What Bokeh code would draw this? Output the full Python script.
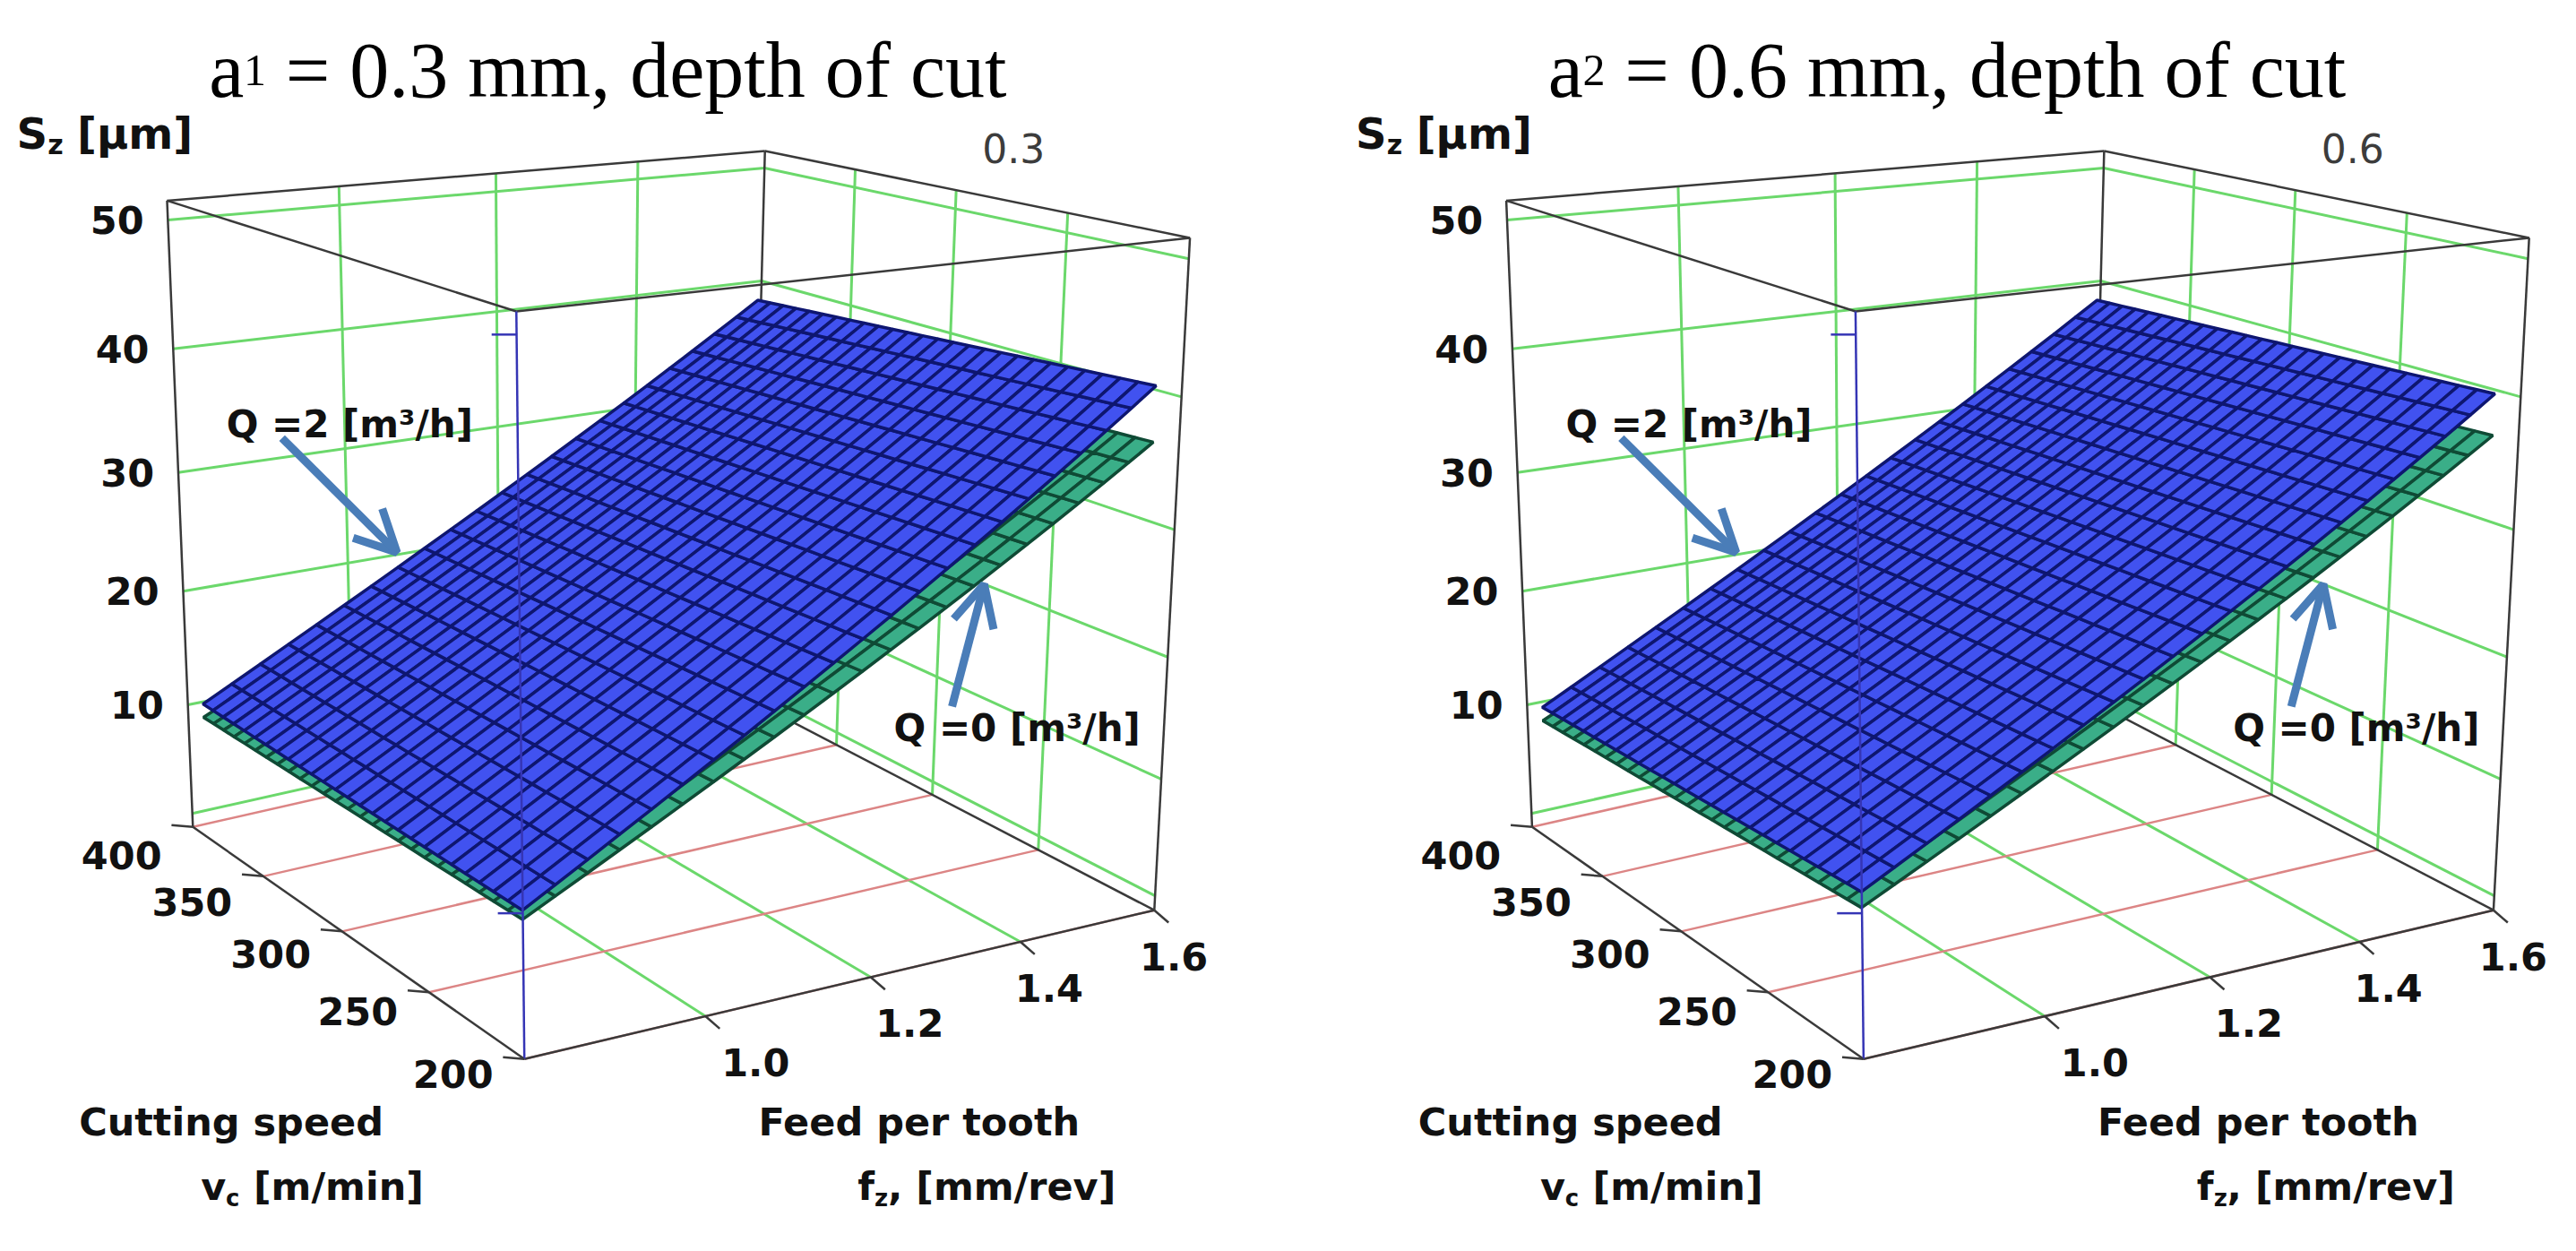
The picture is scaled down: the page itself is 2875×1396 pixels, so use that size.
import numpy as np
from bokeh.plotting import figure
from bokeh.models import Range1d, Arrow, OpenHead
from bokeh.core.properties import value
from bokeh.embed import file_html
from bokeh.resources import INLINE

# ---- values ----
depth_text = ["0.3", "0.6"]
depth_idx = ["1", "2"]
vc_ticks = [400, 350, 300, 250, 200]      # cutting speed [m/min]
fz_ticks = [1.0, 1.2, 1.4, 1.6]           # feed per tooth [mm/rev]
sz_ticks = [10, 20, 30, 40, 50]           # Sz [um]
vc_lims = [200, 400]
fz_lims = [0.8, 1.6]

# fitted Sz [um] at the corners of the tested range
# order: (vc max, fz min), (vc min, fz min), (vc max, fz max), (vc min, fz max)
surf_vc = [205, 395]
surf_fz = [0.81, 1.58]
sz_q2 = [[10.3, 9.6, 38.6, 40.7], [10.0, 11.0, 38.6, 40.1]]   # Q = 2 m3/h
sz_q0 = [[9.1, 8.9, 35.1, 36.5], [8.8, 9.8, 35.4, 37.0]]      # Q = 0 m3/h

# ---- 3d box projection (screen px of the box corners, left panel) ----
# key (u, v, w): u vc 400->200, v fz 0.8->1.6, w floor->ceiling
BOX = {
    (0, 0, 0): (216, 933), (0, 0, 1): (187, 226),
    (1, 0, 0): (588, 1195), (1, 0, 1): (579, 351),
    (0, 1, 0): (842, 790), (0, 1, 1): (858, 170),
    (1, 1, 0): (1295, 1027), (1, 1, 1): (1335, 268),
}
PANEL_DX = [0, 1503]
N_VC, N_FZ = 26, 22


def to_uvw(vc, fz, z):
    t = (vc_lims[1] - np.asarray(vc, float)) / (vc_lims[1] - vc_lims[0])
    s = (np.asarray(fz, float) - fz_lims[0]) / (fz_lims[1] - fz_lims[0])
    z = np.asarray(z, float)
    # mild perspective along each axis
    u = t - 0.2 * t * (1 - t)
    v = s + 0.2 * s * (1 - s)
    w = 0.0215 + 0.01695 * z + 4e-5 * z * z
    return u, v, w


def from_uvw(u, v, w, dx):
    u, v, w = np.broadcast_arrays(np.asarray(u, float), np.asarray(v, float), np.asarray(w, float))
    x = np.zeros(u.shape)
    y = np.zeros(u.shape)
    for (iu, iv, iw), (cx, cy) in BOX.items():
        k = (u if iu else 1 - u) * (v if iv else 1 - v) * (w if iw else 1 - w)
        x = x + k * cx
        y = y + k * cy
    return x + dx, y


def proj(vc, fz, z, dx):
    return from_uvw(*to_uvw(vc, fz, z), dx)


def seg(a, b, dx):
    x, y = from_uvw([a[0], b[0]], [a[1], b[1]], [a[2], b[2]], dx)
    return list(x), list(y)


def surface(corners, dx):
    vcs = np.linspace(surf_vc[1], surf_vc[0], N_VC + 1)
    fzs = np.linspace(surf_fz[0], surf_fz[1], N_FZ + 1)
    VC, FZ = np.meshgrid(vcs, fzs, indexing="ij")
    a = (surf_vc[1] - VC) / (surf_vc[1] - surf_vc[0])
    b = (FZ - surf_fz[0]) / (surf_fz[1] - surf_fz[0])
    Z = ((1 - a) * (1 - b) * corners[0] + a * (1 - b) * corners[1]
         + (1 - a) * b * corners[2] + a * b * corners[3])
    X, Y = proj(VC, FZ, Z, dx)
    xs, ys = [], []
    for i in range(N_VC):
        for j in range(N_FZ):
            xs.append([X[i, j], X[i + 1, j], X[i + 1, j + 1], X[i, j + 1]])
            ys.append([Y[i, j], Y[i + 1, j], Y[i + 1, j + 1], Y[i, j + 1]])
    return xs, ys


W, H = 2875, 1396
p = figure(width=2859, height=1380, x_range=Range1d(0, W), y_range=Range1d(H, 0),
           output_backend="svg", toolbar_location=None, min_border=0,
           x_axis_location=None, y_axis_location=None)
p.grid.visible = False
p.outline_line_color = None

GREEN = "#6bd86b"
RED = "#dc8585"
EDGE = "#3a3a3a"
SANS = value("DejaVu Sans")
SERIF = value("Liberation Serif")
ARROW = "#4a7db8"

for k in range(2):
    dx = PANEL_DX[k]
    z_grid = [0] + sz_ticks

    # green grid on the back walls
    gx, gy = [], []
    for z in z_grid:
        w = to_uvw(300, 1.0, z)[2]
        for a, b in [((0, 0, w), (0, 1, w)), ((0, 1, w), (1, 1, w))]:
            sx, sy = seg(a, b, dx)
            gx.append(sx); gy.append(sy)
    for fz in fz_ticks[:-1]:
        v = to_uvw(300, fz, 0)[1]
        sx, sy = seg((0, v, 0), (0, v, 1), dx); gx.append(sx); gy.append(sy)
        sx, sy = seg((0, v, 0), (1, v, 0), dx); gx.append(sx); gy.append(sy)
    for vc in vc_ticks[1:-1]:
        u = to_uvw(vc, 1.0, 0)[0]
        sx, sy = seg((u, 1, 0), (u, 1, 1), dx); gx.append(sx); gy.append(sy)
    p.multi_line(gx, gy, line_color=GREEN, line_width=3)

    # red floor lines at each cutting speed
    rx, ry = [], []
    for vc in vc_ticks:
        u = to_uvw(vc, 1.0, 0)[0]
        sx, sy = seg((u, 0, 0), (u, 1, 0), dx); rx.append(sx); ry.append(sy)
    p.multi_line(rx, ry, line_color=RED, line_width=2.5)

    # box edges
    ex, ey = [], []
    for a, b in [((0, 0, 0), (0, 0, 1)), ((0, 1, 0), (0, 1, 1)), ((1, 1, 0), (1, 1, 1)),
                 ((0, 1, 0), (1, 1, 0)), ((0, 0, 0), (1, 0, 0)), ((1, 0, 0), (1, 1, 0)),
                 ((0, 0, 1), (1, 0, 1)), ((1, 0, 1), (1, 1, 1)),
                 ((0, 0, 1), (0, 1, 1)), ((0, 1, 1), (1, 1, 1))]:
        sx, sy = seg(a, b, dx)
        ex.append(sx); ey.append(sy)
    p.multi_line(ex, ey, line_color=EDGE, line_width=2.5)

    # response surfaces: Q = 0 below, Q = 2 on top
    xs, ys = surface(sz_q0[k], dx)
    p.patches(xs, ys, fill_color="#3aae88", line_color="#0f4a35", line_width=3.5)
    xs, ys = surface(sz_q2[k], dx)
    p.patches(xs, ys, fill_color="#4152f0", line_color="#0e1670", line_width=3.5)

    # front vertical edge (blue) with its ticks
    bx, by = [], []
    sx, sy = seg((1, 0, 0), (1, 0, 1), dx); bx.append(sx); by.append(sy)
    for z in [10, 50]:
        x0, y0 = proj(200, 0.8, z, dx)
        bx.append([float(x0), float(x0) - 28]); by.append([float(y0), float(y0)])
    p.multi_line(bx, by, line_color="#3535b5", line_width=2.5)

    # axis ticks
    tx, ty = [], []
    zb = -1.27
    for vc in vc_ticks:
        x0, y0 = proj(vc, 0.8, zb, dx)
        tx.append([float(x0), float(x0) - 24]); ty.append([float(y0), float(y0) - 2])
    for fz in fz_ticks:
        x0, y0 = proj(200, fz, zb, dx)
        tx.append([float(x0), float(x0) + 16]); ty.append([float(y0), float(y0) + 14])
    p.multi_line(tx, ty, line_color=EDGE, line_width=2.5)

    # tick labels
    lx, ly, lt = [], [], []
    for z in sz_ticks:
        x0, y0 = proj(400, 0.8, z, dx)
        lx.append(float(x0) - 57); ly.append(float(y0)); lt.append(str(z))
    for vc in vc_ticks:
        u = float(to_uvw(vc, 1.0, 0)[0])
        x0, y0 = proj(vc, 0.8, zb, dx)
        lx.append(float(x0) - 80); ly.append(float(y0) + 32 - 15 * u); lt.append(str(vc))
    for fz in fz_ticks:
        v = float(to_uvw(300, fz, 0)[1])
        x0, y0 = proj(200, fz, zb, dx)
        lx.append(float(x0) + 70 - 48 * v); ly.append(float(y0) + 52); lt.append(f"{fz:.1f}")
    p.text(lx, ly, lt, text_font=SANS, text_font_style="bold", text_font_size="43px",
           text_align="center", text_baseline="middle", text_color="#111111")

    # axis titles
    p.text([259 + dx, 1031 + dx], [1266, 1266], ["Cutting speed", "Feed per tooth"],
           text_font=SANS, text_font_style="bold", text_font_size="43px",
           text_align="center", text_baseline="middle", text_color="#111111")
    p.text([225 + dx, 962 + dx, 284 + dx, 996 + dx], [1339, 1339, 1339, 1339],
           ["v", "f", "[m/min]", ", [mm/rev]"],
           text_font=SANS, text_font_style="bold", text_font_size="43px",
           text_align="left", text_baseline="middle", text_color="#111111")
    p.text([253 + dx, 981 + dx], [1352, 1352], ["c", "z"],
           text_font=SANS, text_font_style="bold", text_font_size="26px",
           text_align="left", text_baseline="middle", text_color="#111111")
    p.text([18 + dx, 86 + dx], [150, 150], ["S", "[µm]"],
           text_font=SANS, text_font_style="bold", text_font_size="48px",
           text_align="left", text_baseline="middle", text_color="#111111")
    p.text([53 + dx], [163], ["z"],
           text_font=SANS, text_font_style="bold", text_font_size="30px",
           text_align="left", text_baseline="middle", text_color="#111111")
    p.text([1137 + dx], [167], [depth_text[k]],
           text_font=SANS, text_font_size="44px",
           text_align="center", text_baseline="middle", text_color="#3c3c3c")

    # panel title
    x0 = 234 + dx
    p.text([x0], [79], ["a"], text_font=SERIF, text_font_size="88px",
           text_align="left", text_baseline="alphabetic", text_color="#000000")
    p.text([x0 + 39], [79], [depth_idx[k]], text_font=SERIF, text_font_size="50px",
           text_align="left", text_baseline="alphabetic", text_color="#000000")
    p.text([x0 + 86], [79], [f"= {depth_text[k]} mm, depth of cut"], text_font=SERIF,
           text_font_size="88px", text_align="left", text_baseline="alphabetic",
           text_color="#000000")

    # flow-rate annotations
    p.text([392 + dx, 1141 + dx], [478, 821], ["Q =2 [m³/h]", "Q =0 [m³/h]"],
           text_font=SANS, text_font_style="bold", text_font_size="42px",
           text_align="center", text_baseline="middle", text_color="#111111")
    for (xa, ya, xb, yb) in [(316, 494, 445, 623), (1068, 797, 1104, 659)]:
        p.add_layout(Arrow(end=OpenHead(size=46, line_width=9, line_color=ARROW),
                           x_start=xa + dx, y_start=ya, x_end=xb + dx, y_end=yb,
                           line_width=9, line_color=ARROW))

open("out.html", "w").write(file_html(p, INLINE))
